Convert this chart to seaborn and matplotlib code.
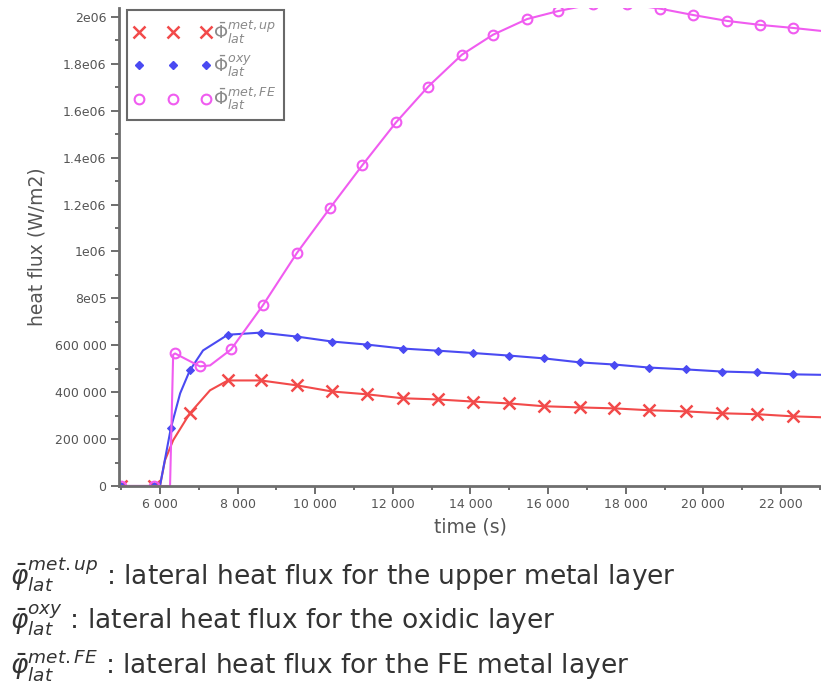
import numpy as np
import pandas as pd
import matplotlib
matplotlib.use("Agg")
import matplotlib.pyplot as plt
import seaborn as sns
from matplotlib.lines import Line2D
from matplotlib.ticker import FixedLocator, MultipleLocator

# ---------------- data ----------------
up_time = [5000, 5850, 6000, 6130, 6340, 6770, 7290, 7750, 8600, 9530, 10430, 11330,
           12260, 13160, 14070, 15000, 15900, 16820, 17700, 18600, 19560, 20480,
           21390, 22310, 23050]
up_flux = [0, 0, 0, 110000, 195000, 310000, 408000, 450000, 450000, 429000, 403000,
           391000, 374000, 369000, 360000, 352000, 340000, 335000, 331000, 323000,
           318000, 310000, 306000, 297000, 293000]
up_marks = [0, 1, 5, 7, 8, 9, 10, 11, 12, 13, 14, 15, 16, 17, 18, 19, 20, 21, 22, 23]

oxy_time = [5000, 5850, 6000, 6280, 6520, 6770, 7110, 7750, 8600, 9530, 10430, 11330,
            12260, 13160, 14070, 15000, 15900, 16820, 17700, 18600, 19560, 20480,
            21390, 22310, 23050]
oxy_flux = [0, 0, 0, 246000, 395000, 493000, 578000, 645000, 654000, 637000, 616000,
            603000, 586000, 577000, 567000, 556000, 544000, 527000, 518000, 505000,
            497000, 488000, 484000, 476000, 474000]
oxy_marks = [0, 1, 3, 5, 7, 8, 9, 10, 11, 12, 13, 14, 15, 16, 17, 18, 19, 20, 21, 22, 23]

fe_time = [5000, 5850, 6260, 6340, 6390, 7030, 7290, 7830, 8650, 9530, 10380, 11210,
           12080, 12910, 13780, 14580, 15460, 16260, 17160, 18040, 18890, 19740,
           20610, 21460, 22310, 23050]
fe_flux = [0, 0, 0, 560000, 565000, 510000, 514000, 582000, 770000, 994000, 1185000,
           1367000, 1550000, 1703000, 1839000, 1924000, 1991000, 2025000, 2055000,
           2055000, 2035000, 2008000, 1983000, 1966000, 1953000, 1940000]
fe_marks = [0, 1, 4, 5, 7, 8, 9, 10, 11, 12, 13, 14, 15, 16, 17, 18, 19, 20, 21, 22, 23, 24]

y_ticks = [0, 200000, 400000, 600000, 800000, 1000000, 1200000, 1400000, 1600000,
           1800000, 2000000]
y_tick_labels = ["0", "200 000", "400 000", "600 000", "8e05", "1e06", "1.2e06",
                 "1.4e06", "1.6e06", "1.8e06", "2e06"]
x_ticks = [6000, 8000, 10000, 12000, 14000, 16000, 18000, 20000, 22000]
x_tick_labels = ["6 000", "8 000", "10 000", "12 000", "14 000", "16 000", "18 000",
                 "20 000", "22 000"]

legend_labels = [r"$\bar{\Phi}_{lat}^{met,up}$", r"$\bar{\Phi}_{lat}^{oxy}$",
                 r"$\bar{\Phi}_{lat}^{met,FE}$"]
notes_symbols = [r"$\bar{\varphi}_{lat}^{met.up}$", r"$\bar{\varphi}_{lat}^{oxy}$",
                 r"$\bar{\varphi}_{lat}^{met.FE}$"]
notes_text = [" : lateral heat flux for the upper metal layer",
              " : lateral heat flux for the oxidic layer",
              " : lateral heat flux for the FE metal layer"]

# ---------------- figure ----------------
sns.set_theme(style="white")
plt.rcParams["font.family"] = ["DejaVu Sans"]
plt.rcParams["mathtext.fontset"] = "dejavusans"

W, H = 821, 682
fig = plt.figure(figsize=(W / 100, H / 100), dpi=100)
ax = fig.add_axes([119 / W, (H - 486) / H, 1 - 119 / W, (486 - 8) / H])

red = "#f24a4a"
blue = "#4a4af2"
mag = "#f05cf0"

df_up = pd.DataFrame({"time": up_time, "flux": up_flux})
df_oxy = pd.DataFrame({"time": oxy_time, "flux": oxy_flux})
df_fe = pd.DataFrame({"time": fe_time, "flux": fe_flux})

sns.lineplot(data=df_up, x="time", y="flux", ax=ax, color=red, lw=1.5, marker="x",
             markersize=9, markeredgewidth=1.8, markeredgecolor=red,
             markevery=up_marks, sort=False, estimator=None)
sns.lineplot(data=df_oxy, x="time", y="flux", ax=ax, color=blue, lw=1.5, marker="D",
             markersize=4, markeredgecolor=blue, markerfacecolor=blue,
             markevery=oxy_marks, sort=False, estimator=None)
sns.lineplot(data=df_fe, x="time", y="flux", ax=ax, color=mag, lw=1.5, marker="o",
             markersize=7, markerfacecolor="none", markeredgecolor=mag,
             markeredgewidth=1.5, markevery=fe_marks, sort=False, estimator=None)

ax.set_xlim(4945, 23030)
ax.set_ylim(0, 2.038e6)

ax.yaxis.set_major_locator(FixedLocator(y_ticks))
ax.set_yticklabels(y_tick_labels)
ax.yaxis.set_minor_locator(MultipleLocator(100000))
ax.xaxis.set_major_locator(FixedLocator(x_ticks))
ax.set_xticklabels(x_tick_labels)
ax.xaxis.set_minor_locator(MultipleLocator(1000))

for s in ["top", "right"]:
    ax.spines[s].set_visible(False)
for s in ["left", "bottom"]:
    ax.spines[s].set_color("#6e6e6e")
    ax.spines[s].set_linewidth(2)

ax.tick_params(axis="both", which="major", direction="out", length=6, width=1.2,
               color="#555555", labelsize=9, labelcolor="#555555", left=True,
               bottom=True, pad=3)
ax.tick_params(axis="both", which="minor", direction="out", length=3, width=1.2,
               color="#555555", left=True, bottom=True)

ax.set_xlabel("time (s)", fontsize=13.5, color="#555555", labelpad=4)
ax.set_ylabel("heat flux (W/m2)", fontsize=13.5, color="#555555", labelpad=6)

handles = [
    Line2D([], [], ls="none", marker="x", color=red, markersize=9, markeredgewidth=1.8),
    Line2D([], [], ls="none", marker="D", color=blue, markersize=4),
    Line2D([], [], ls="none", marker="o", markerfacecolor="none", markeredgecolor=mag,
           markersize=7, markeredgewidth=1.5),
]
leg = ax.legend(handles, legend_labels, loc="upper left", numpoints=3,
                handlelength=4.3, handletextpad=0.1, fontsize=13, labelspacing=0.4,
                frameon=True, fancybox=False, borderpad=0.4,
                bbox_to_anchor=(0.011, 0.995), borderaxespad=0.0)
leg.get_frame().set_edgecolor("#444444")
leg.get_frame().set_linewidth(1.5)
for t in leg.get_texts():
    t.set_color("#8a8a8a")

# notes under the chart
ys = [575, 620, 665]
for sym, txt, yy in zip(notes_symbols, notes_text, ys):
    fig.text(10 / W, 1 - yy / H, sym + txt, fontsize=19, color="#333333",
             ha="left", va="center")

fig.savefig("out.png", dpi=100)
